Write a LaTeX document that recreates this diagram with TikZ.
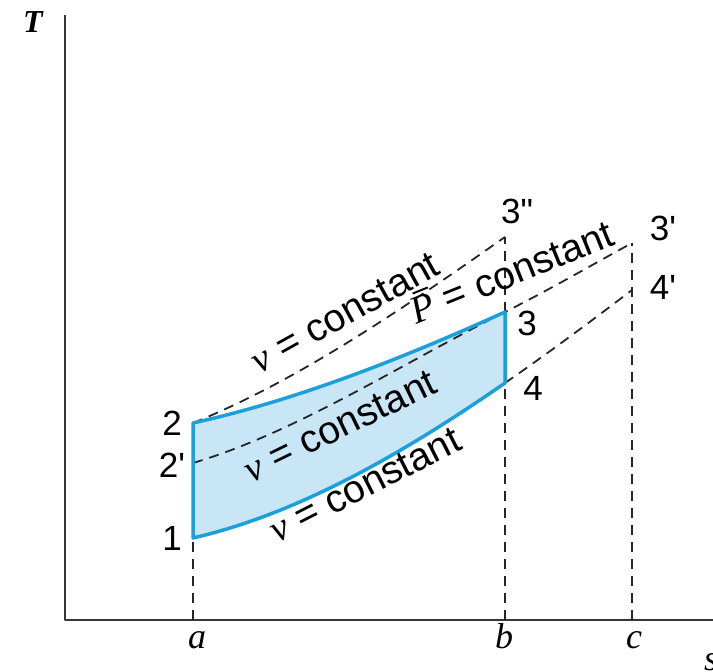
\documentclass[tikz,border=0pt]{standalone}
\usepackage{fontspec}
\newfontfamily\hfont{Liberation Sans}
\newfontfamily\tfont{Liberation Serif}
\definecolor{cycfill}{RGB}{200,230,246}
\definecolor{cycline}{RGB}{28,160,220}
\definecolor{axisgray}{RGB}{55,55,55}
\newcommand{\pbar}{\rlap{\kern0.2em\rule[0.76em]{0.42em}{0.05em}}{\tfont\itshape P}}
\begin{document}
\begin{tikzpicture}[x=1pt, y=-1pt, font=\hfont\fontsize{35}{40}\selectfont, line join=round,
	guide/.style={dash pattern=on 10pt off 7pt, line width=1.8pt, color=black!85},
	cyc/.style={line width=3.5pt, color=cycline},
	lbl/.style={inner sep=0pt},
	const/.style={inner sep=0pt, font=\hfont\fontsize{39}{44}\selectfont}]
	\useasboundingbox (0,0) rectangle (713,672);
	
	\coordinate (O) at (65,620);
	\coordinate (Ty) at (65,15);
	\coordinate (Sx) at (713,620);
	\coordinate (A) at (193,620);
	\coordinate (B) at (505,620);
	\coordinate (C) at (632,620);
	\coordinate (P1) at (193,538);
	\coordinate (P2) at (193,423);
	\coordinate (P2p) at (193,463);
	\coordinate (P3) at (505,312);
	\coordinate (P4) at (505,383);
	\coordinate (P3pp) at (505,237);
	\coordinate (P3p) at (632,243);
	\coordinate (P4p) at (632,290);
	
	\fill[cycfill] (P1) -- (P2) .. controls (297,400) and (401,359) .. (P3) -- (P4) .. controls (401,455) and (297,514) .. (P1) -- cycle;
	
	\draw[line width=2.2pt, color=axisgray] (Ty) -- (O) -- (Sx);
	
	\draw[guide] (A) -- (P1);
	\draw[guide] (B) -- (P4);
	\draw[guide] (P3) -- (P3pp);
	\draw[guide] (C) -- (P3p);
	\draw[guide] (P2) .. controls (297,381) and (401,310) .. (P3pp);
	\draw[guide] (P2p) .. controls (297,432) and (401,364) .. (P3) .. controls (547,291) and (590,266) .. (P3p);
	\draw[guide] (P4) .. controls (547,354) and (590,322) .. (P4p);
	
	\draw[cyc] (P1) -- (P2) .. controls (297,400) and (401,359) .. (P3) -- (P4) .. controls (401,455) and (297,514) .. (P1) -- cycle;
	
	\node[lbl] (n1) at (172,538) {1};
	\node[lbl] (n2) at (172,423) {2};
	\node[lbl] (n2p) at (172,465) {2'};
	\node[lbl] (n3) at (527,323) {3};
	\node[lbl] (n4) at (533,388) {4};
	\node[lbl] (n3pp) at (517,211) {3"};
	\node[lbl] (n3p) at (663,228) {3'};
	\node[lbl] (n4p) at (663,287) {4'};
	
	\node[const, rotate=29] (vtop) at (345,313) {{\tfont\itshape ν} = constant};
	\node[const, rotate=22] (pmid) at (511,270) {\pbar{} = constant};
	\node[const, rotate=26] (vin) at (340,426) {{\tfont\itshape ν} = constant};
	\node[const, rotate=27] (vlow) at (365,485) {{\tfont\itshape ν} = constant};
	
	\node[lbl, font=\tfont\bfseries\itshape\fontsize{32}{36}\selectfont] (tlab) at (33,22) {T};
	\node[lbl, font=\tfont\itshape\fontsize{36}{40}\selectfont] (alab) at (197,640) {a};
	\node[lbl, font=\tfont\itshape\fontsize{36}{40}\selectfont] (blab) at (504,636) {b};
	\node[lbl, font=\tfont\itshape\fontsize{36}{40}\selectfont] (clab) at (634,640) {c};
	\node[lbl, font=\tfont\itshape\fontsize{36}{40}\selectfont] (slab) at (711,662) {s};
\end{tikzpicture}
\end{document}
